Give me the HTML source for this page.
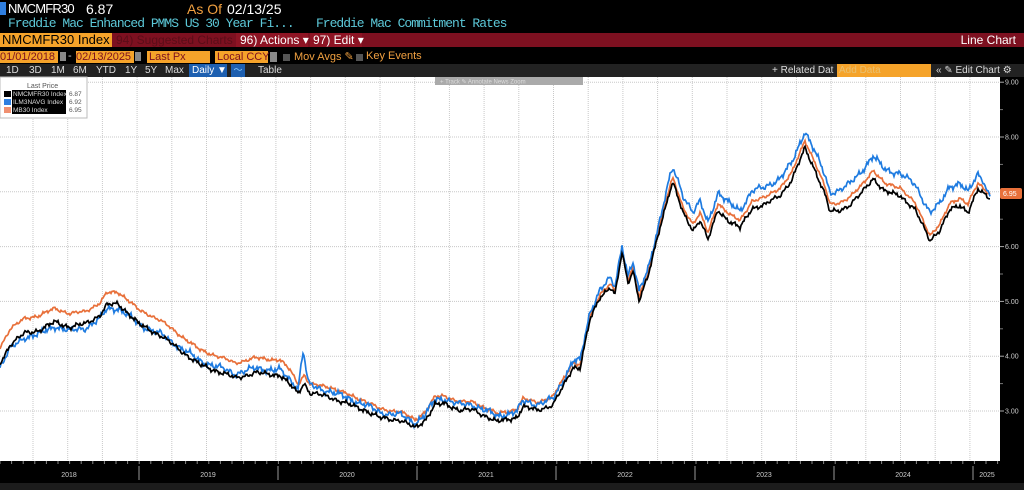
<!DOCTYPE html>
<html><head><meta charset="utf-8"><style>
*{margin:0;padding:0;box-sizing:border-box}
body{width:1024px;height:490px;background:#000;overflow:hidden;font-family:"Liberation Sans",sans-serif;position:relative}
.a{position:absolute;white-space:nowrap}
.m{font-family:"Liberation Mono",monospace}
.t{position:absolute;top:64px;color:#ddd;font-size:10px;line-height:13px}
</style></head><body>
<div class="a" style="left:0;top:2px;width:6px;height:13px;background:#2f7fe0"></div>
<div class="a" style="left:8px;top:1px;color:#fff;font-size:13px;letter-spacing:-0.8px">NMCMFR30</div>
<div class="a" style="left:86px;top:1px;color:#fff;font-size:14px">6.87</div>
<div class="a" style="left:187px;top:1px;color:#f0a040;font-size:14px">As Of</div>
<div class="a" style="left:227px;top:1px;color:#fff;font-size:14px">02/13/25</div>
<div class="a m" style="left:8px;top:16px;color:#5cc8d8;font-size:13px;letter-spacing:-1px">Freddie Mac Enhanced PMMS US 30 Year Fi...</div>
<div class="a m" style="left:316px;top:16px;color:#5cc8d8;font-size:13px;letter-spacing:-1px">Freddie Mac Commitment Rates</div>
<div class="a" style="left:0;top:33px;width:1024px;height:14px;background:#7d1020"></div>
<div class="a" style="left:0;top:33px;width:112px;height:14px;background:#f5a32a;color:#000;font-size:13px;line-height:14px;padding-left:2px">NMCMFR30 Index</div>
<div class="a" style="left:116px;top:33px;color:#5a0d18;font-size:12px;line-height:14px">94) Suggested Charts ▾</div>
<div class="a" style="left:236px;top:33px;width:72px;height:14px;background:#8e1424;color:#fff;font-size:12px;line-height:14px;padding-left:4px">96) Actions ▾</div>
<div class="a" style="left:310px;top:33px;width:52px;height:14px;background:#8e1424;color:#fff;font-size:12px;line-height:14px;padding-left:3px">97) Edit ▾</div>
<div class="a" style="right:8px;top:33px;color:#fff;font-size:12px;line-height:14px">Line Chart</div>
<div class="a" style="left:0;top:51px;width:58px;height:12px;background:#f5a32a;color:#7d1020;font-size:11px;line-height:12px">01/01/2018</div>
<div class="a" style="left:60px;top:52px;width:6px;height:9px;background:#888"></div>
<div class="a" style="left:68px;top:50px;color:#ccc;font-size:11px">-</div>
<div class="a" style="left:76px;top:51px;width:58px;height:12px;background:#f5a32a;color:#7d1020;font-size:11px;line-height:12px">02/13/2025</div>
<div class="a" style="left:135px;top:52px;width:6px;height:9px;background:#888"></div>
<div class="a" style="left:147px;top:51px;width:63px;height:12px;background:#f5a32a;color:#7d1020;font-size:11px;line-height:12px;padding-left:2px">Last Px</div>
<div class="a" style="left:215px;top:51px;width:53px;height:12px;background:#f5a32a;color:#7d1020;font-size:11px;line-height:12px;padding-left:2px">Local CCY</div>
<div class="a" style="left:270px;top:52px;width:7px;height:10px;background:#888"></div>
<div class="a" style="left:283px;top:54px;width:7px;height:7px;background:#555"></div>
<div class="a" style="left:294px;top:50px;color:#f0a040;font-size:11px">Mov Avgs ✎</div>
<div class="a" style="left:356px;top:54px;width:7px;height:7px;background:#555"></div>
<div class="a" style="left:366px;top:50px;color:#f0a040;font-size:11px">Key Events</div>
<div class="a" style="left:0;top:64px;width:1024px;height:13px;background:#222"></div>
<div class="t" style="left:6px">1D</div><div class="t" style="left:29px">3D</div><div class="t" style="left:51px">1M</div><div class="t" style="left:73px">6M</div><div class="t" style="left:96px">YTD</div><div class="t" style="left:125px">1Y</div><div class="t" style="left:145px">5Y</div><div class="t" style="left:165px">Max</div>
<div class="a" style="left:189px;top:64px;width:38px;height:13px;background:#1d5fb0;color:#fff;font-size:10px;line-height:13px;padding-left:3px">Daily ▼</div>
<div class="a" style="left:231px;top:64px;width:14px;height:13px;background:#1d5fb0;color:#8cf;font-size:9px;line-height:13px;text-align:center">〜</div>
<div class="t" style="left:258px">Table</div>
<div class="t" style="left:772px">+ Related Dat</div>
<div class="a" style="left:837px;top:64px;width:94px;height:13px;background:#f5a32a;color:#e8c070;font-size:10px;line-height:13px;padding-left:2px">Add Data</div>
<div class="t" style="left:936px">«  ✎ Edit Chart ⚙</div>
<svg class="a" style="left:0;top:0" width="1024" height="490" id="s"></svg>
<script>
var svg=document.getElementById('s'),h='';
h+='<rect x="0" y="77" width="1000" height="384" fill="#fff"/>';
function Y(v){return 137+(8-v)*54.8}
for(var v=3;v<=9;v++){h+='<line x1="0" x2="1000" y1="'+Y(v)+'" y2="'+Y(v)+'" stroke="#c8c8c8" stroke-dasharray="1,1"/>';}
for(var x=33;x<1000;x+=34.7){h+='<line x1="'+x+'" x2="'+x+'" y1="77" y2="461" stroke="#c8c8c8" stroke-dasharray="1,1"/>';}
h+='<rect x="1000" y="77" width="24" height="413" fill="#000"/>';
h+='<rect x="0" y="461" width="1000" height="29" fill="#000"/><rect x="0" y="483" width="1024" height="7" fill="#1c1c1c"/>';
for(var x=0;x<1000;x+=11.6){h+='<line x1="'+x+'" x2="'+x+'" y1="461" y2="464" stroke="#888"/>';}
var yrs=['2018','2019','2020','2021','2022','2023','2024','2025'];
for(var i=0;i<8;i++){var x0=i*139;if(i>0)h+='<line x1="'+x0+'" x2="'+x0+'" y1="466" y2="480" stroke="#999"/>';var cx=i<7?x0+69:x0+14;h+='<text x="'+cx+'" y="477" fill="#ccc" font-size="7" text-anchor="middle" font-family="Liberation Sans">'+yrs[i]+'</text>';}
for(var v=3;v<=9;v++){h+='<line x1="1000" x2="1004" y1="'+Y(v)+'" y2="'+Y(v)+'" stroke="#aaa"/><text x="1005" y="'+(Y(v)+2.5)+'" fill="#ccc" font-size="7" font-family="Liberation Sans">'+v+'.00</text>';
 if(v<9)h+='<line x1="1000" x2="1003" y1="'+Y(v+.5)+'" y2="'+Y(v+.5)+'" stroke="#777"/>';}
var K=[[0,363],[10,345],[25,333],[40,330],[55,322],[70,327],[85,324],[100,315],[107,305],[118,304],[125,310],[140,325],[160,335],[180,350],[200,365],[220,372],[235,378],[255,373],[280,375],[298,393],[304,383],[310,393],[330,397],[350,405],[365,410],[380,418],[400,420],[415,428],[425,420],[435,405],[445,404],[460,410],[473,410],[490,418],[497,422],[517,417],[523,407],[537,410],[553,405],[563,387],[573,367],[580,368],[590,320],[600,297],[610,287],[615,295],[622,253],[628,283],[633,270],[639,300],[643,290],[648,277],[660,227],[670,190],[673,183],[683,213],[693,230],[700,220],[708,240],[718,210],[730,222],[740,228],[752,208],[765,205],[780,195],[792,180],[805,148],[815,170],[825,195],[830,212],[840,210],[850,205],[860,195],[873,178],[885,192],[900,195],[915,210],[930,240],[940,230],[950,210],[960,205],[968,212],[978,190],[990,198]];
function interp(P,x){for(var i=1;i<P.length;i++){if(x<=P[i][0]){var a=P[i-1],b=P[i];return a[1]+(b[1]-a[1])*(x-a[0])/(b[0]-a[0]);}}return P[P.length-1][1];}
var OO=[[0,-16],[100,-12],[118,-12],[150,-15],[290,-15],[300,-8],[330,-10],[420,-8],[560,-8],[580,-3],[660,-3],[700,-7],[900,-8],[930,-5],[970,-8],[990,-4]];
var BO=[[0,4],[120,4],[140,0],[200,-4],[298,-5],[303,-33],[308,-8],[320,-6],[420,-5],[560,-6],[600,-8],[660,-8],[680,-18],[800,-17],[860,-22],[900,-22],[930,-28],[960,-22],[978,-16],[983,-14],[988,-4],[990,-3]];
function n(x,s){return Math.sin(x*1.7+s)*1.2+Math.sin(x*0.63+s*2)*1.5+Math.sin(x*3.1+s*3)*0.8+Math.sin(x*0.21+s)*1.2;}
function path(f,s,amp){var d='';for(var x=0;x<=990;x+=1){var y=interp(K,x)+f(x)+n(x,s)*amp;d+=(x?'L':'M')+x+','+y.toFixed(1);}return d;}
var dB=path(function(x){return 0},0.3,0.8),dO=path(function(x){return interp(OO,x)},1.1,0.6),dL=path(function(x){return interp(BO,x)},2.2,1.1);
h+='<path d="'+dO+'" fill="none" stroke="#e8703a" stroke-width="1.7"/>';
h+='<path d="'+dL+'" fill="none" stroke="#1e7be0" stroke-width="1.7"/>';
h+='<path d="'+dB+'" fill="none" stroke="#000" stroke-width="1.7"/>';
h+='<rect x="1000" y="188" width="22" height="11" rx="2" fill="#e8703a"/><text x="1003" y="196" fill="#fff" font-size="7" font-family="Liberation Sans">6.95</text>';
h+='<rect x="435" y="77" width="148" height="8" fill="#aaa"/><text x="440" y="83.5" fill="#ddd" font-size="6" font-family="Liberation Sans">+ Track   ✎ Annotate   News   Zoom</text>';
h+='<rect x="0" y="77" width="87" height="41" fill="#fff" stroke="#bbb"/><text x="27" y="88" fill="#555" font-size="7" font-family="Liberation Sans">Last Price</text>';
var L=[['#000','NMCMFR30 Index','6.87'],['#2f7fe0','ILM3NAVG Index','6.92'],['#f09070','MB30 Index','6.95']];
for(var i=0;i<3;i++){var y=96+i*8;h+='<rect x="4" y="'+(y-5)+'" width="7" height="6" fill="'+L[i][0]+'"/><rect x="12" y="'+(y-6)+'" width="54" height="8" fill="#000"/><text x="13" y="'+y+'" fill="#ddd" font-size="6.5" font-family="Liberation Sans">'+L[i][1]+'</text><text x="69" y="'+y+'" fill="#555" font-size="6.5" font-family="Liberation Sans">'+L[i][2]+'</text>';}
svg.innerHTML=h;
</script>
</body></html>
